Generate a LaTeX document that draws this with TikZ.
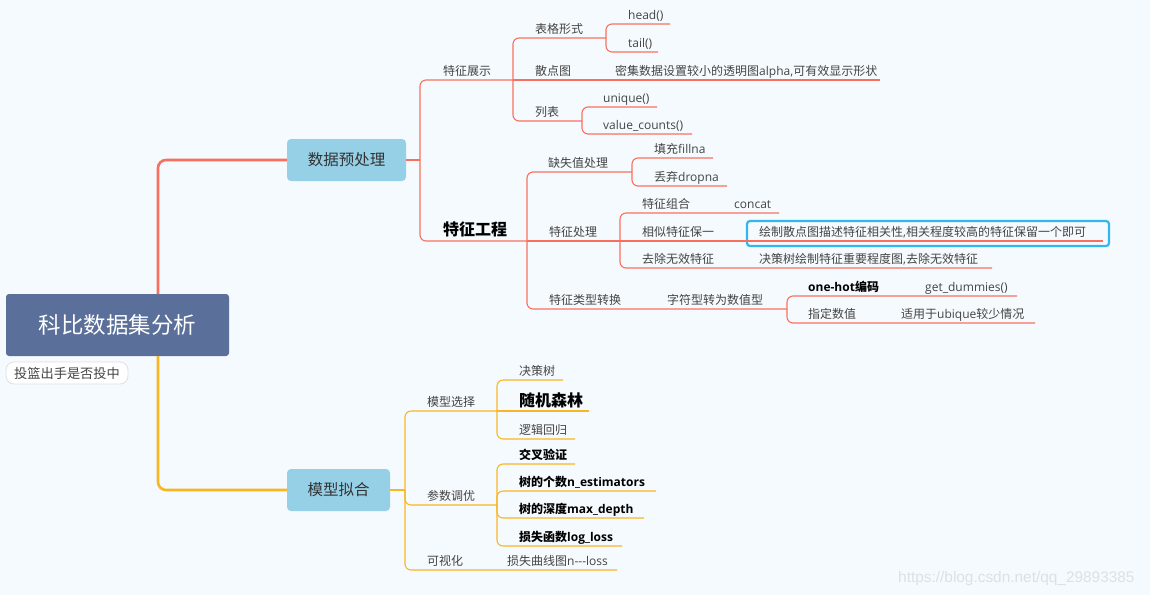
\documentclass[tikz,border=0pt]{standalone}
\usepackage{fontspec}
\setmainfont{Noto Sans CJK SC}
\newfontfamily\lat{Open Sans}
\newfontfamily\wmfont{Liberation Sans}
\newcommand\LL[1]{{\lat #1}}
\definecolor{bgc}{HTML}{F5FAFE}
\definecolor{rootc}{HTML}{5A6F99}
\definecolor{boxc}{HTML}{96D0E6}
\definecolor{redc}{HTML}{F7705F}
\definecolor{yelc}{HTML}{F9B623}
\definecolor{txtc}{HTML}{444444}
\definecolor{hlc}{HTML}{33B6F0}
\definecolor{wmc}{HTML}{DCE1E6}
\tikzset{
  tx/.style={anchor=base west, inner sep=0pt, text=txtc, font=\fontsize{12}{14}\selectfont},
  txb/.style={tx, text=black, font=\fontsize{12}{14}\selectfont\bfseries},
  txbig/.style={tx, text=black, font=\fontsize{16}{18}\selectfont\bfseries},
  conR/.style={draw=redc, line width=1.1pt, rounded corners=6pt},
  conY/.style={draw=yelc, line width=1.1pt, rounded corners=6pt},
  rootR/.style={draw=redc, line width=2.6pt, rounded corners=8pt},
  rootY/.style={draw=yelc, line width=2.6pt, rounded corners=8pt},
  mainbox/.style={fill=boxc, rounded corners=4pt, text=black!80, font=\fontsize{15.5}{17}\selectfont, inner sep=0pt, minimum height=42pt},
}
\begin{document}
\begin{tikzpicture}[x=1pt,y=-1pt]
\useasboundingbox (0,0) rectangle (1150,595);
\fill[bgc] (0,0) rectangle (1150,595);

% root and main topics
\node[fill=rootc, rounded corners=3pt, text=white, font=\fontsize{22.5}{26}\selectfont, minimum width=223pt, minimum height=62pt, inner sep=0pt] (root) at (117.5,325) {科比数据集分析};
\node[fill=white, draw=black!12, line width=0.8pt, rounded corners=8pt, text=txtc, font=\fontsize{13.2}{15}\selectfont, minimum width=122pt, minimum height=22pt, inner sep=0pt] (sub) at (67,373) {投篮出手是否投中};
\node[mainbox, minimum width=119pt] (dp) at (346.5,160) {数据预处理};
\node[mainbox, minimum width=103pt] (mf) at (338.5,490) {模型拟合};

\coordinate (rtop) at (158,294);
\coordinate (rbot) at (158,356);
\draw[rootR] (rtop) |- (dp.west);
\draw[rootY] (rbot) |- (mf.west);

% ---------- red branch texts ----------
\node[tx] (tz) at (443,75.5) {特征展示};
\node[tx] (bg) at (535,33.5) {表格形式};
\node[tx] (hd) at (628,19.5) {\LL{head()}};
\node[tx] (tl) at (628,47.5) {\LL{tail()}};
\node[tx] (sd) at (535,75.5) {散点图};
\node[tx] (sdc) at (615,75.5) {密集数据设置较小的透明图\LL{alpha,}可有效显示形状};
\node[tx] (lb) at (535,116.5) {列表};
\node[tx] (uq) at (603,102.5) {\LL{unique()}};
\node[tx] (vc) at (603,129.5) {\LL{value\_counts()}};
\node[txbig] (tg) at (443,235.5) {特征工程};
\node[tx] (qs) at (548,167.5) {缺失值处理};
\node[tx] (tc) at (654,153.5) {填充\LL{fillna}};
\node[tx] (dq) at (654,181.5) {丢弃\LL{dropna}};
\node[tx] (cl) at (549,236.5) {特征处理};
\node[tx] (zh) at (642,208.5) {特征组合};
\node[tx] (cc) at (734,208.5) {\LL{concat}};
\node[tx] (xs) at (642,236.5) {相似特征保一};
\node[draw=hlc, line width=2.2pt, rounded corners=3pt, minimum width=362pt, minimum height=25pt, inner sep=0pt] (hl) at (928,233.5) {};
\node[tx] (xsc) at (759,236.5) {绘制散点图描述特征相关性\LL{,}相关程度较高的特征保留一个即可};
\node[tx] (qc) at (642,263.5) {去除无效特征};
\node[tx] (qcc) at (759,263.5) {决策树绘制特征重要程度图\LL{,}去除无效特征};
\node[tx] (lx) at (549,304.5) {特征类型转换};
\node[tx] (zf) at (667,304.5) {字符型转为数值型};
\node[txb] (oh) at (808,291.5) {\LL{one-hot}编码};
\node[tx] (gd) at (925,291.5) {\LL{get\_dummies()}};
\node[tx] (zd) at (808,318.5) {指定数值};
\node[tx] (sy) at (901,318.5) {适用于\LL{ubique}较少情况};

% red coordinates (underline ends)
\coordinate (L1) at (420,160);
\coordinate (tz-e) at (513,80);
\coordinate (bg-e) at (606,38);
\coordinate (hd-e) at (670,24);
\coordinate (tl-e) at (658,52);
\coordinate (sdc-e) at (880,80);
\coordinate (lb-e) at (582,121);
\coordinate (uq-e) at (657,107);
\coordinate (vc-e) at (692,134);
\coordinate (tg-e) at (527,241);
\coordinate (qs-e) at (632,172);
\coordinate (tc-e) at (713,158);
\coordinate (dq-e) at (727,186);
\coordinate (cl-e) at (620,241);
\coordinate (cc-e) at (779,213);
\coordinate (xsc-e) at (1103,241);
\coordinate (qcc-e) at (992,268);
\coordinate (zf-e) at (787,309);
\coordinate (gd-e) at (1017,296);
\coordinate (sy-e) at (1035,323);

\draw[conR] (dp.east) -- (L1);
\draw[conR] (L1) |- (tz-e);
\draw[conR] (L1) |- (tg-e);
\draw[conR] (tz-e) |- (bg-e);
\draw[conR] (tz-e) -- (sdc-e);
\draw[conR] (tz-e) |- (lb-e);
\draw[conR] (bg-e) |- (hd-e);
\draw[conR] (bg-e) |- (tl-e);
\draw[conR] (lb-e) |- (uq-e);
\draw[conR] (lb-e) |- (vc-e);
\draw[conR] (tg-e) |- (qs-e);
\draw[conR] (tg-e) -- (xsc-e);
\draw[conR] (tg-e) |- (zf-e);
\draw[conR] (qs-e) |- (tc-e);
\draw[conR] (qs-e) |- (dq-e);
\draw[conR] (cl-e) |- (cc-e);
\draw[conR] (cl-e) |- (qcc-e);
\draw[conR] (zf-e) |- (gd-e);
\draw[conR] (zf-e) |- (sy-e);

% ---------- yellow branch texts ----------
\node[tx] (mx) at (427,406) {模型选择};
\node[tx] (jc) at (519,375.5) {决策树};
\node[txbig] (sj) at (519,406) {随机森林};
\node[tx] (lj) at (519,434.5) {逻辑回归};
\node[tx] (cs) at (427,500.5) {参数调优};
\node[txb] (jx) at (519,459.5) {交叉验证};
\node[txb] (gs) at (519,486.5) {树的个数\LL{n\_estimators}};
\node[txb] (sd2) at (519,513.5) {树的深度\LL{max\_depth}};
\node[txb] (ss) at (519,541.5) {损失函数\LL{log\_loss}};
\node[tx] (ks) at (427,565.5) {可视化};
\node[tx] (qx) at (507,565.5) {损失曲线图\LL{n{-}{-}{-}loss}};

\coordinate (L1y) at (405,490);
\coordinate (mx-e) at (497,411);
\coordinate (jc-e) at (563,380);
\coordinate (sj-e) at (589,411);
\coordinate (lj-e) at (575,439);
\coordinate (cs-e) at (497,505);
\coordinate (jx-e) at (575,464);
\coordinate (gs-e) at (656,491);
\coordinate (sd2-e) at (644,518);
\coordinate (ss-e) at (622,546);
\coordinate (qx-e) at (617,570);

\draw[conY] (mf.east) -- (L1y);
\draw[conY] (L1y) |- (mx-e);
\draw[conY] (L1y) |- (cs-e);
\draw[conY] (L1y) |- (qx-e);
\draw[conY] (mx-e) |- (jc-e);
\draw[conY] (mx-e) -- (sj-e);
\draw[conY] (mx-e) |- (lj-e);
\draw[conY] (cs-e) |- (jx-e);
\draw[conY] (cs-e) |- (gs-e);
\draw[conY] (cs-e) |- (sd2-e);
\draw[conY] (cs-e) |- (ss-e);

% watermark
\node[anchor=base west, inner sep=0pt, text=wmc, font=\wmfont\fontsize{15.4}{17}\selectfont] (wm) at (898,582) {https://blog.csdn.net/qq\_29893385};
\end{tikzpicture}
\end{document}
